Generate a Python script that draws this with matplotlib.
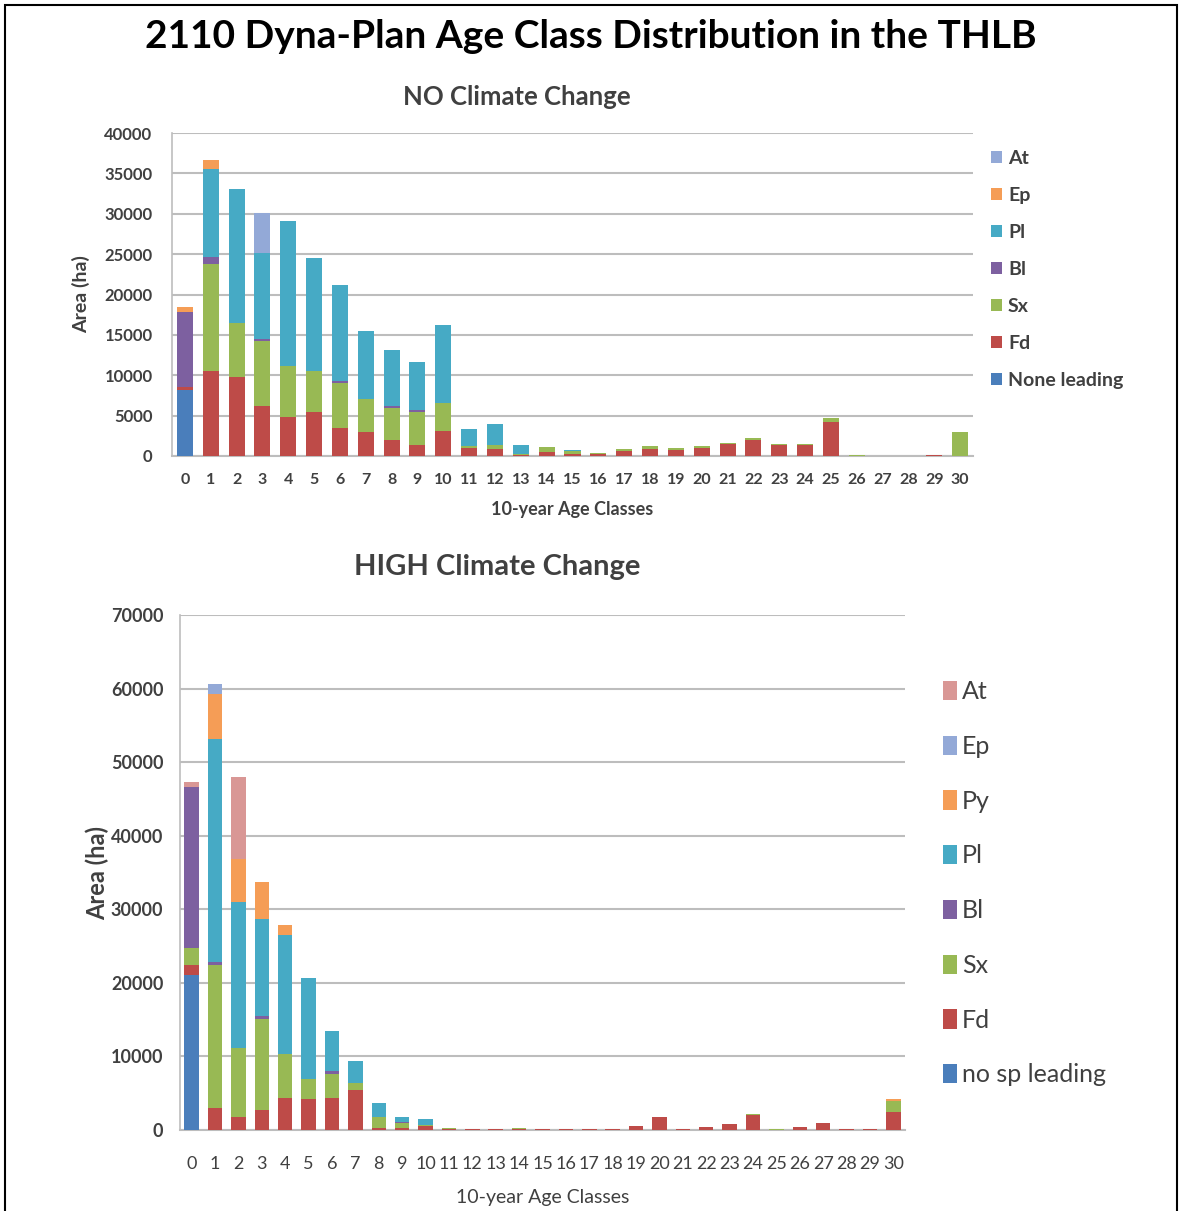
import matplotlib
matplotlib.use("Agg")
import matplotlib.pyplot as plt
from matplotlib.patches import Rectangle, Patch

plt.rcParams['font.family'] = ['Lato', 'DejaVu Sans']

# 10-year age classes, shared by both charts
age_classes = list(range(31))

# NO Climate Change (area in ha per species, per age class)
no_none = [8200] + [0] * 30
no_fd = [300, 10500, 9800, 6200, 4800, 5400, 3500, 3000, 2000, 1400, 3100, 1000, 900, 100, 500,
         200, 200, 600, 900, 800, 1000, 1500, 2000, 1400, 1400, 4200, 50, 0, 0, 100, 0]
no_sx = [100, 13300, 6700, 8100, 6300, 5100, 5500, 4000, 3900, 4000, 3500, 300, 500, 100, 600,
         400, 200, 300, 300, 200, 200, 150, 200, 100, 50, 500, 50, 0, 0, 50, 3000]
no_bl = [9200, 800, 0, 200, 100, 0, 300, 0, 300, 300, 0] + [0] * 20
no_pl = [0, 10900, 16600, 10700, 17900, 14000, 11900, 8500, 6900, 6000, 9600, 2100, 2600, 1200, 0,
         100] + [0] * 15
no_ep = [600, 1200] + [0] * 29
no_at = [0, 0, 0, 4900] + [0] * 27

# HIGH Climate Change
hi_none = [21100] + [0] * 30
hi_fd = [1300, 3000, 1700, 2700, 4300, 4200, 4400, 5500, 300, 300, 500, 150, 100, 100, 150,
         100, 100, 100, 150, 500, 1700, 100, 350, 800, 2100, 50, 350, 900, 150, 150, 2400]
hi_sx = [2350, 19400, 9400, 12400, 6000, 2800, 3200, 900, 1400, 600, 200, 100, 50, 50, 100,
         50, 50, 50, 50, 100, 0, 50, 100, 50, 50, 50, 100, 100, 50, 50, 1500]
hi_bl = [21850, 500, 0, 400, 0, 0, 400, 0, 0, 200] + [0] * 21
hi_pl = [0, 30300, 19900, 13200, 16200, 13700, 5500, 3000, 1950, 600, 800, 50, 50, 50, 50] + \
        [0] * 10 + [50] + [0] * 5
hi_py = [0, 6100, 5800, 5000, 1300] + [0] * 25 + [300]
hi_ep = [0, 1300] + [0] * 29
hi_at = [700, 0, 11200] + [0] * 28

COLORS = {
    'none': '#4A7EBB', 'Fd': '#BE4B48', 'Sx': '#98B954', 'Bl': '#7D60A0',
    'Pl': '#46AAC5', 'orange': '#F59D56', 'lightblue': '#93A9D7', 'pink': '#D99795',
}
GRID = '#BDBDBD'
TEXT = '#404040'

W, H = 1182, 1211


def px_axes(fig, left, right, top, bottom):
    """
    Make an axes from pixel edges of the figure
    """
    return fig.add_axes([left / W, 1 - bottom / H, (right - left) / W, (bottom - top) / H])


def stack_bars(ax, series, width):
    """
    Draw stacked bars from a list of (label, values, color)
    Returns legend handles, top entry first
    """
    base = [0] * len(age_classes)
    handles = []
    for label, values, color in series:
        ax.bar(age_classes, values, width=width, bottom=base, color=color, zorder=3)
        base = [b + v for b, v in zip(base, values)]
        handles.append(Patch(facecolor=color, label=label))
    return handles[::-1]


def style_axes(ax, ymax, step):
    """
    Excel-like gray grid and axis lines
    """
    ax.set_xlim(-0.5, 30.5)
    ax.set_ylim(0, ymax)
    ax.set_yticks(range(0, ymax + 1, step))
    ax.set_xticks(age_classes)
    ax.yaxis.grid(True, color=GRID, linewidth=1.5, zorder=0)
    for side in ['top', 'right']:
        ax.spines[side].set_visible(False)
    ax.spines['left'].set_color(GRID)
    ax.spines['bottom'].set_color(GRID)
    ax.spines['left'].set_linewidth(1.2)
    ax.spines['bottom'].set_linewidth(1.5)
    ax.tick_params(length=0, colors=TEXT)


def main():
    fig = plt.figure(figsize=(W / 100, H / 100), dpi=100)

    # page border
    fig.patches.append(Rectangle((5 / W, -0.05), (W - 10) / W, 1.05 - 5 / H, transform=fig.transFigure,
                                 fill=False, edgecolor='black', linewidth=1.5))
    fig.text(0.5, 1 - 36 / H, "2110 Dyna-Plan Age Class Distribution in the THLB",
             ha='center', va='center', fontsize=28, fontweight='bold', color='black')

    # 1) NO Climate Change
    ax1 = px_axes(fig, 172, 973, 133, 456)
    top_series = [
        ('None leading', no_none, COLORS['none']),
        ('Fd', no_fd, COLORS['Fd']),
        ('Sx', no_sx, COLORS['Sx']),
        ('Bl', no_bl, COLORS['Bl']),
        ('Pl', no_pl, COLORS['Pl']),
        ('Ep', no_ep, COLORS['orange']),
        ('At', no_at, COLORS['lightblue']),
    ]
    handles = stack_bars(ax1, top_series, 0.62)
    style_axes(ax1, 40000, 5000)
    for lab in ax1.get_xticklabels() + ax1.get_yticklabels():
        lab.set_fontweight('bold')
    for lab in ax1.get_yticklabels():
        lab.set_fontsize(12)
    for lab in ax1.get_xticklabels():
        lab.set_fontsize(11.5)
    ax1.tick_params(axis='y', pad=14)
    ax1.tick_params(axis='x', pad=12)
    ax1.set_title("NO Climate Change", fontsize=18.5, fontweight='bold', color=TEXT, pad=20,
                  x=(517 - 172) / 801)
    ax1.set_ylabel("Area (ha)", fontsize=14, fontweight='bold', color=TEXT, labelpad=10)
    ax1.set_xlabel("10-year Age Classes", fontsize=13, fontweight='bold', color=TEXT, labelpad=10)
    ax1.legend(handles=handles, loc='upper left', bbox_to_anchor=(1.0, 1.003), frameon=False,
               handlelength=0.6, handleheight=0.6, handletextpad=0.3,
               labelspacing=1.03, labelcolor=TEXT, prop={'weight': 'bold', 'size': 14})

    # 2) HIGH Climate Change
    ax2 = px_axes(fig, 180, 905, 615, 1130)
    bottom_series = [
        ('no sp leading', hi_none, COLORS['none']),
        ('Fd', hi_fd, COLORS['Fd']),
        ('Sx', hi_sx, COLORS['Sx']),
        ('Bl', hi_bl, COLORS['Bl']),
        ('Pl', hi_pl, COLORS['Pl']),
        ('Py', hi_py, COLORS['orange']),
        ('Ep', hi_ep, COLORS['lightblue']),
        ('At', hi_at, COLORS['pink']),
    ]
    handles = stack_bars(ax2, bottom_series, 0.62)
    style_axes(ax2, 70000, 10000)
    for lab in ax2.get_yticklabels():
        lab.set_fontweight('bold')
        lab.set_fontsize(13)
    for lab in ax2.get_xticklabels():
        lab.set_fontsize(13)
    ax2.tick_params(axis='y', pad=12)
    ax2.tick_params(axis='x', pad=19)
    ax2.set_title("HIGH Climate Change", fontsize=21, fontweight='bold', color=TEXT, pad=29,
                  x=(497 - 180) / 725)
    ax2.set_ylabel("Area (ha)", fontsize=17, fontweight='bold', color=TEXT, labelpad=1)
    ax2.set_xlabel("10-year Age Classes", fontsize=14, color=TEXT, labelpad=12)
    ax2.legend(handles=handles, loc='upper left', bbox_to_anchor=(1.022, 0.917), frameon=False,
               handlelength=0.55, handleheight=0.8, handletextpad=0.2,
               labelspacing=1.27, labelcolor=TEXT, prop={'size': 18})

    fig.savefig("out.png", dpi=100)


if __name__ == "__main__":
    main()
